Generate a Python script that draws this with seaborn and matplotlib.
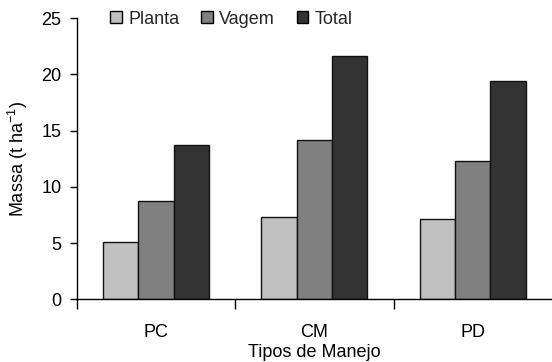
import matplotlib
matplotlib.use("Agg")
import matplotlib.pyplot as plt
import seaborn as sns
import pandas as pd
from matplotlib.ticker import FixedLocator, NullFormatter
from matplotlib.patches import Patch

categories = ["PC", "CM", "PD"]
series_names = ["Planta", "Vagem", "Total"]
planta = [5.1, 7.3, 7.1]
vagem = [8.7, 14.2, 12.3]
total = [13.7, 21.6, 19.4]
y_ticks = [0, 5, 10, 15, 20, 25]
colors = ["#c0c0c0", "#808080", "#333333"]

rows = []
for name, vals in zip(series_names, [planta, vagem, total]):
    for c, v in zip(categories, vals):
        rows.append({"Manejo": c, "Serie": name, "Massa": v})
df = pd.DataFrame(rows)

sns.set_theme(style="white")
plt.rcParams["font.family"] = ["Liberation Sans", "DejaVu Sans"]
plt.rcParams["mathtext.fontset"] = "custom"
plt.rcParams["mathtext.rm"] = "Liberation Sans"
plt.rcParams["mathtext.it"] = "Liberation Sans"
plt.rcParams["mathtext.bf"] = "Liberation Sans"

FS = 13

fig = plt.figure(figsize=(5.52, 3.62), dpi=100)
ax = fig.add_axes([0.139, 0.173, 0.861, 0.777])

sns.barplot(data=df, x="Manejo", y="Massa", hue="Serie", order=categories,
            hue_order=series_names, palette=colors, width=0.67,
            edgecolor="#111111", linewidth=1.0, saturation=1, ax=ax, legend=False)

ax.set_xlim(-0.5, 2.5)
ax.set_ylim(0, 25)
ax.set_yticks(y_ticks)
ax.tick_params(axis="y", direction="out", length=5, width=1, color="black",
               labelsize=FS, labelcolor="black", left=True, pad=6)
ax.tick_params(axis="x", which="major", length=0, labelsize=FS, labelcolor="black", pad=18)
ax.xaxis.set_minor_locator(FixedLocator([-0.5, 0.5, 1.5]))
ax.xaxis.set_minor_formatter(NullFormatter())
ax.tick_params(axis="x", which="minor", direction="out", length=7, width=1,
               color="black", bottom=True)

for s in ["top", "right"]:
    ax.spines[s].set_visible(False)
for s in ["left", "bottom"]:
    ax.spines[s].set_color("black")
    ax.spines[s].set_linewidth(1)

ax.set_xlabel("Tipos de Manejo", fontsize=FS, color="black", labelpad=2)
ax.set_ylabel("Massa (t ha$^{-1}$)", fontsize=FS, color="black", labelpad=8)

handles = [Patch(facecolor=c, edgecolor="black", linewidth=1.0) for c in colors]
leg = fig.legend(handles, series_names, loc="center left", bbox_to_anchor=(0.200, 0.947),
                 ncol=3, frameon=False, fontsize=FS, handlelength=0.65, handleheight=0.65,
                 handletextpad=0.35, columnspacing=1.2, borderaxespad=0, borderpad=0)

fig.savefig("out.png", dpi=100)
